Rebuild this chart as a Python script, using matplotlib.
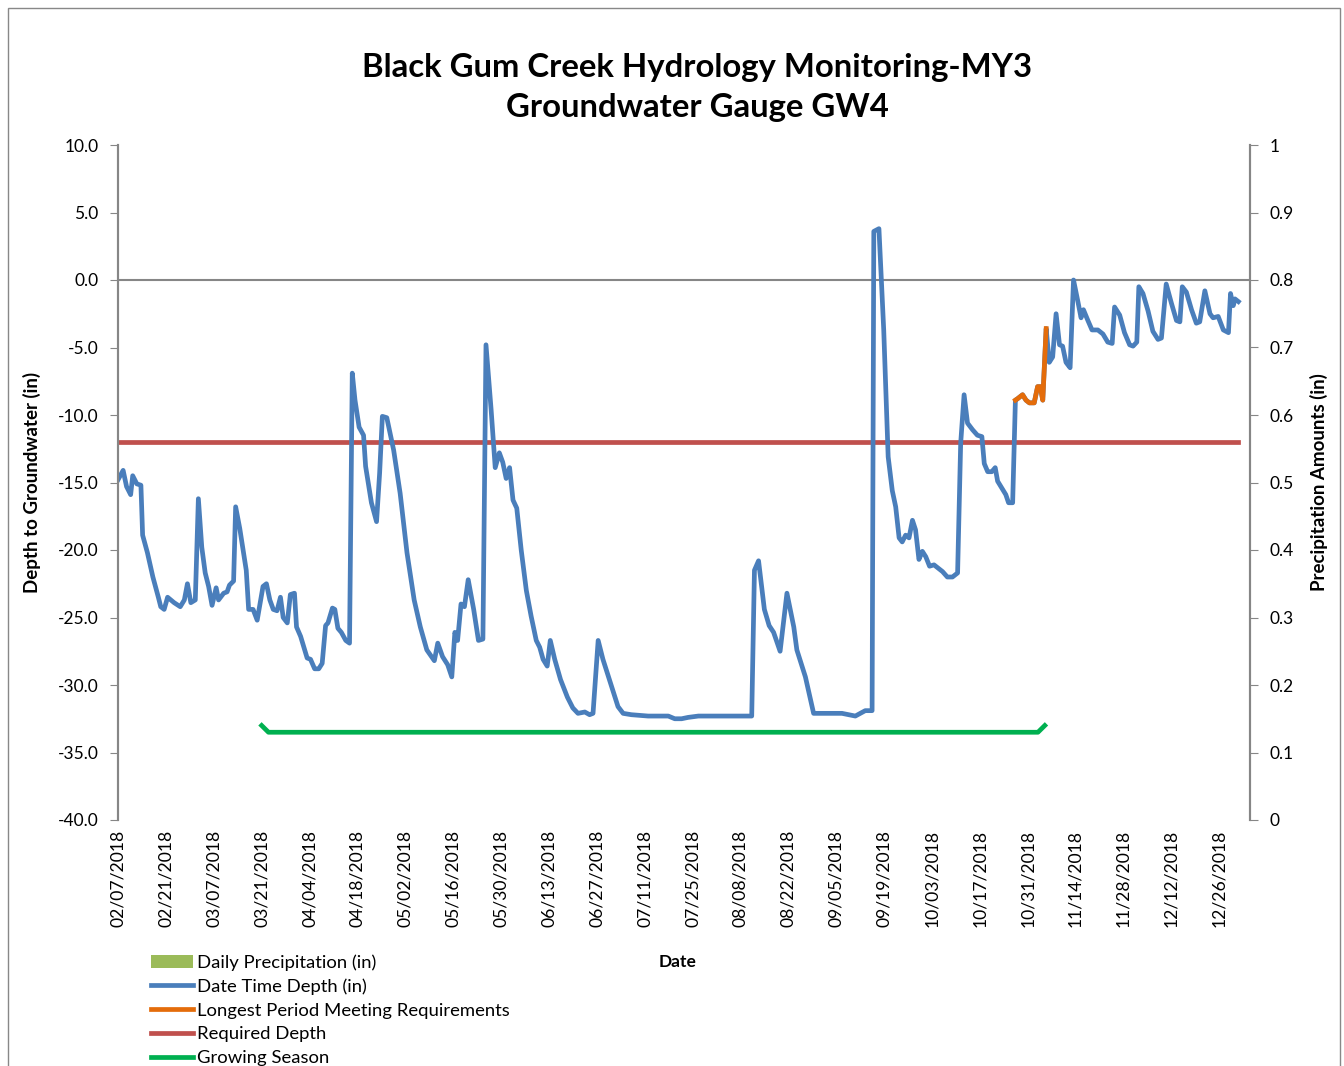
import pandas as pd
import numpy as np
import matplotlib.pyplot as plt
import matplotlib.dates as mdates
from matplotlib.patches import Rectangle, Patch

plt.rcParams['font.family'] = ['Lato', 'DejaVu Sans']

# groundwater depth readings (days since 02/07/2018, inches)
start = pd.Timestamp('2018-02-07')
depth_days = [0, 1.5, 2.5, 3.7, 4.3, 5.5, 6.7, 7.2, 8.6, 10.2, 11.8, 12.5, 13.5, 14.5, 16.4, 18.2,
              19.4, 20.3, 21.3, 22.6, 23.5, 24.5, 25.5, 26.5, 27.5, 28.7, 29.4, 30.9, 31.9, 32.6,
              33.8, 34.4, 35.6, 37.5, 38.2, 39.5, 40.7, 42.4, 43.4, 44.4, 45.4, 46.5, 47.5, 48.3,
              49.5, 50.4, 51.6, 52.2, 53.4, 55.3, 56.3, 57.5, 58.7, 59.7, 60.7, 61.4, 62.7, 63.4,
              64.3, 65.3, 66.6, 67.7, 68.5, 69.3, 70.5, 71.8, 72.4, 74.1, 75.6, 76.5, 77.3, 78.6,
              80.6, 82.5, 84.5, 86.6, 88.4, 90.3, 92.5, 93.5, 94.9, 96.4, 97.6, 98.5, 99.3, 100.3,
              101.3, 102.4, 104.0, 105.4, 106.7, 107.6, 109.1, 110.3, 111.5, 112.5, 113.5, 114.5,
              115.5, 116.6, 117.9, 119.4, 120.8, 122.3, 123.3, 124.3, 125.5, 126.4, 127.7, 129.4,
              131.4, 133.0, 134.5, 136.5, 137.9, 138.9, 140.4, 141.8, 144.3, 146.2, 147.7, 150.1,
              155.0, 160.9, 162.8, 164.8, 166.7, 169.7, 176.5, 185.3, 186.1, 187.3, 189.0, 190.4,
              191.7, 193.6, 195.6, 197.6, 198.5, 201.0, 203.4, 211.7, 215.6, 218.5, 220.5, 221.0,
              222.5, 223.9, 225.2, 226.4, 227.4, 228.4, 229.3, 230.3, 231.3, 232.3, 233.2, 234.2,
              235.2, 236.2, 237.3, 238.6, 241.1, 242.5, 244.0, 245.5, 246.4, 247.4, 248.4, 249.9,
              251.3, 252.6, 253.3, 254.3, 255.5, 256.5, 257.2, 258.4, 259.6, 260.4, 261.6, 262.4,
              263.0, 264.5, 265.5, 266.5, 267.9, 268.9, 269.7, 270.4, 271.4, 272.3, 273.3, 274.3,
              275.3, 276.2, 277.2, 278.4, 279.4, 280.6, 281.6, 282.3, 283.6, 284.8, 286.5, 288.0,
              289.4, 290.7, 291.4, 292.9, 294.3, 295.8, 296.8, 297.9, 298.5, 299.7, 301.2, 302.6,
              304.1, 305.1, 306.5, 308.0, 309.5, 310.5, 311.2, 312.4, 313.9, 315.3, 316.3, 317.8,
              319.3, 320.2, 321.7, 323.2, 324.7, 325.3, 326.1, 326.6, 327.6]
depth_in = [-14.8, -14.1, -15.3, -15.9, -14.5, -15.1, -15.2, -18.9, -20.2, -22.0, -23.5, -24.2,
            -24.4, -23.5, -23.9, -24.2, -23.7, -22.5, -23.9, -23.7, -16.2, -19.8, -21.7, -22.7,
            -24.1, -22.8, -23.7, -23.2, -23.1, -22.6, -22.3, -16.8, -18.4, -21.5, -24.4, -24.4,
            -25.2, -22.7, -22.5, -23.7, -24.4, -24.5, -23.5, -25.0, -25.4, -23.3, -23.2, -25.7,
            -26.4, -28.0, -28.1, -28.8, -28.8, -28.4, -25.6, -25.4, -24.3, -24.4, -25.8, -26.1,
            -26.7, -26.9, -6.9, -8.9, -10.9, -11.5, -13.8, -16.5, -17.9, -14.3, -10.1, -10.2,
            -12.6, -15.8, -20.2, -23.7, -25.7, -27.4, -28.2, -26.9, -27.9, -28.5, -29.4, -26.1,
            -26.7, -24.0, -24.2, -22.2, -24.4, -26.7, -26.6, -4.8, -9.6, -13.9, -12.8, -13.5,
            -14.7, -13.9, -16.3, -16.9, -20.0, -23.0, -24.9, -26.7, -27.2, -28.1, -28.6, -26.7,
            -28.1, -29.6, -30.9, -31.7, -32.1, -32.0, -32.2, -32.1, -26.7, -28.1, -30.1, -31.6,
            -32.1, -32.2, -32.3, -32.3, -32.5, -32.5, -32.4, -32.3, -32.3, -32.3, -21.5, -20.8,
            -24.4, -25.6, -26.1, -27.5, -23.2, -25.7, -27.4, -29.4, -32.1, -32.1, -32.3, -31.9,
            -31.9, 3.6, 3.8, -3.7, -13.1, -15.6, -16.8, -19.1, -19.4, -18.9, -19.1, -17.8, -18.5,
            -20.7, -20.1, -20.5, -21.2, -21.1, -21.6, -22.0, -22.0, -21.7, -12.1, -8.5, -10.6,
            -11.1, -11.5, -11.6, -13.6, -14.2, -14.2, -13.9, -14.9, -15.4, -15.9, -16.5, -16.5,
            -8.9, -8.8, -8.5, -8.9, -9.1, -9.1, -7.9, -7.9, -8.9, -3.6, -6.1, -5.7, -2.5, -4.8,
            -4.9, -6.1, -6.5, 0.0, -1.5, -2.8, -2.2, -3.0, -3.7, -3.7, -4.0, -4.6, -4.7, -2.0,
            -2.6, -3.9, -4.8, -4.9, -4.6, -0.5, -1.0, -2.3, -3.8, -4.4, -4.3, -0.3, -1.7, -3.0,
            -3.1, -0.5, -0.9, -2.2, -3.2, -3.1, -0.8, -2.5, -2.8, -2.7, -3.7, -3.9, -1.0, -1.9,
            -1.4, -1.6]

# longest period meeting requirements
longest_start, longest_end = 262.4, 271.4

required_depth = -12.0
growing_dates = ['2018-03-21', '2018-03-23', '2018-11-03', '2018-11-05']
growing_vals = [-33.0, -33.5, -33.5, -33.0]

dates = start + pd.to_timedelta(depth_days, unit='D')
depth = pd.Series(depth_in, index=dates)
mask = (np.array(depth_days) >= longest_start) & (np.array(depth_days) <= longest_end)
longest = depth[mask]

fig = plt.figure(figsize=(13.44, 10.66), dpi=100)
ax = fig.add_axes([118/1344, 1-820/1066, (1250-118)/1344, (820-145)/1066])
ax2 = ax.twinx()

lw = 3.4
blue = '#4a7ebb'
ax.plot(depth.index, depth.values, color=blue, lw=lw, label='Date Time Depth (in)', zorder=3)
ax.plot(longest.index, longest.values, color='#e46c0a', lw=lw,
        label='Longest Period Meeting Requirements', zorder=4)
ax.plot([dates[0], dates[-1]], [required_depth, required_depth], color='#c0504d', lw=lw,
        label='Required Depth', zorder=2)
ax.plot(pd.to_datetime(growing_dates), growing_vals, color='#00b050', lw=lw,
        label='Growing Season', zorder=2)
ax.axhline(0, color='#868686', lw=1.5, zorder=1)

ax.set_ylim(-40, 10)
ax.set_yticks(np.arange(-40, 10.1, 5))
ax.set_yticklabels([f'{v:.1f}' for v in np.arange(-40, 10.1, 5)])
ax2.set_ylim(0, 1)
ax2.set_yticks(np.arange(0, 1.01, 0.1))
ax2.set_yticklabels(['0'] + [f'{v:.1f}' for v in np.arange(0.1, 0.95, 0.1)] + ['1'])

ax.set_xlim(start, pd.Timestamp('2019-01-04'))
ticks = pd.date_range('2018-02-07', '2018-12-26', freq='14D')
ax.set_xticks(ticks)
ax.xaxis.set_major_formatter(mdates.DateFormatter('%m/%d/%Y'))
ax.tick_params(axis='x', length=0, rotation=90, labelsize=12.6, pad=7)
ax.tick_params(axis='y', length=6, color='#868686', labelsize=12.5, pad=8)
ax2.tick_params(axis='y', length=6, color='#868686', labelsize=12.5, pad=8)

for a in (ax, ax2):
    a.spines['top'].set_visible(False)
    a.spines['bottom'].set_visible(False)
    a.spines['left'].set_color('#868686')
    a.spines['right'].set_color('#868686')
    a.spines['left'].set_linewidth(1.5)
    a.spines['right'].set_linewidth(1.5)

ax.set_ylabel('Depth to Groundwater (in)', fontsize=13.5, fontweight='bold', labelpad=12)
ax2.set_ylabel('Precipitation Amounts (in)', fontsize=13.5, fontweight='bold', labelpad=12)
fig.text(678/1344, 1-962/1066, 'Date', fontsize=12.5, fontweight='bold', ha='center', va='center')

fig.text(697/1344, 1-67/1066, 'Black Gum Creek Hydrology Monitoring-MY3', fontsize=23.7,
         fontweight='bold', ha='center', va='center')
fig.text(697/1344, 1-108/1066, 'Groundwater Gauge GW4', fontsize=23.7,
         fontweight='bold', ha='center', va='center')

handles, labels = ax.get_legend_handles_labels()
precip = Patch(facecolor='#9bbb59', label='Daily Precipitation (in)')
fig.legend([precip] + handles, ['Daily Precipitation (in)'] + labels,
           loc='upper left', bbox_to_anchor=(151/1344, 1-954/1066), frameon=False,
           fontsize=13.3, handlelength=2.3, handletextpad=0.2, labelspacing=0.42,
           borderpad=0, borderaxespad=0)

fig.patches.append(Rectangle((8/1344, -0.02), (1340-8)/1344, 1.02-8/1066,
                             transform=fig.transFigure, fill=False, edgecolor='#888888', lw=1))

fig.savefig('out.png', dpi=100)
